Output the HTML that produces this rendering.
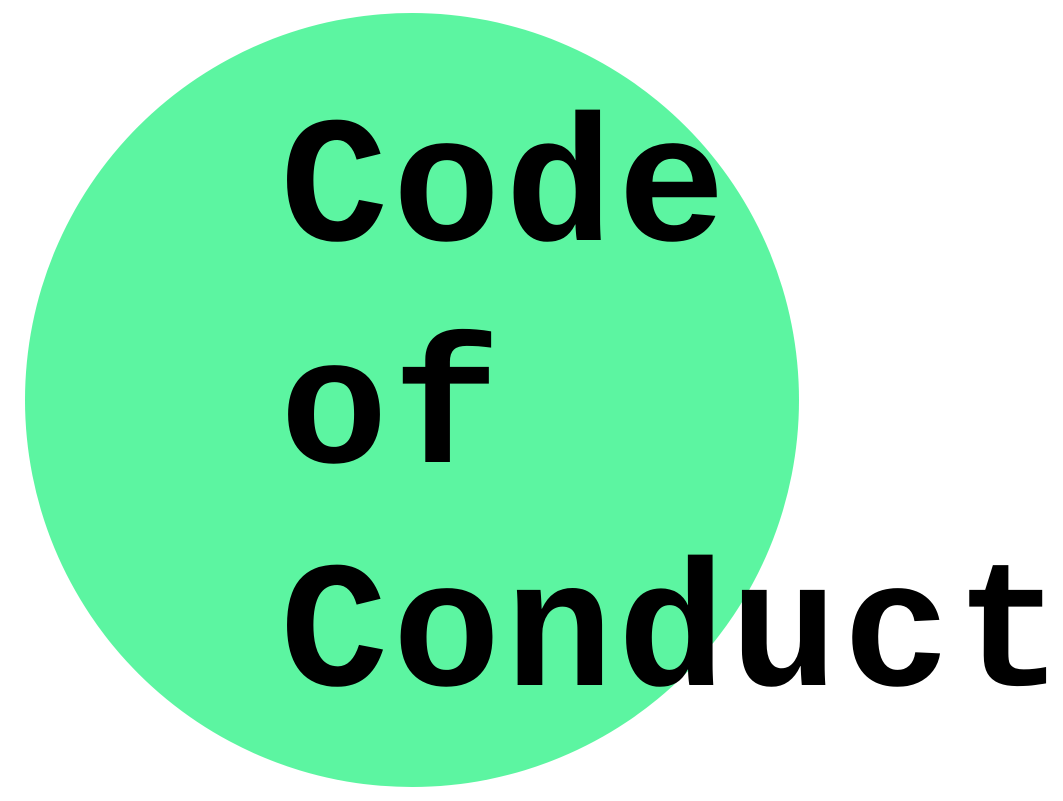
<!DOCTYPE html>
<html><head><meta charset="utf-8"><style>
html,body{margin:0;padding:0;background:#fff;}
svg{display:block}
</style></head><body>
<svg width="1063" height="801" viewBox="0 0 1063 801" xmlns="http://www.w3.org/2000/svg">
<rect width="1063" height="801" fill="#fff"/>
<circle cx="412" cy="400" r="387" fill="#5cf5a1"/>
<g font-family="'Liberation Mono', 'Courier New', monospace" font-weight="bold" font-size="180" fill="#000" letter-spacing="4.5">
<text x="280" y="240">Code</text>
<text x="280" y="462">of</text>
<text x="280" y="685">Conduct</text>
</g>
</svg>
</body></html>
